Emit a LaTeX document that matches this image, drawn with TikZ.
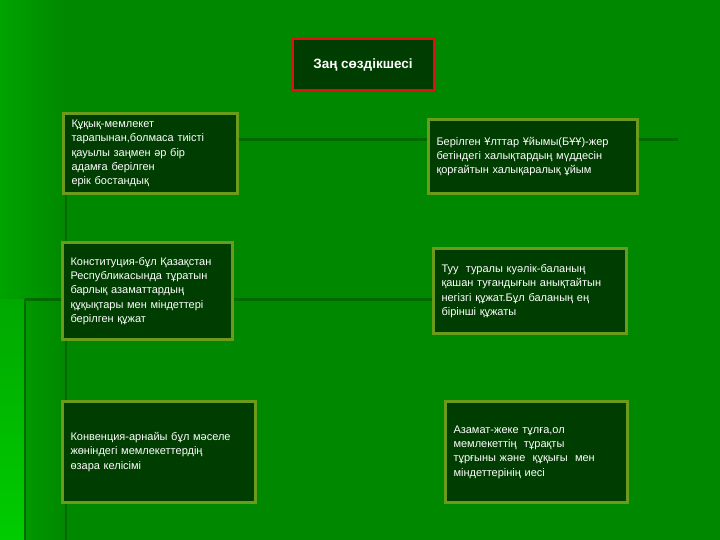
\documentclass[tikz,border=0pt]{standalone}
\usepackage{fontspec}
\setmainfont{Liberation Sans}
\usetikzlibrary{positioning}

\definecolor{slidegreen}{HTML}{008800}
\definecolor{boxgreen}{HTML}{003D00}
\definecolor{boxedge}{HTML}{6B9B1B}
\definecolor{titleedge}{HTML}{E01010}
\definecolor{lineshade}{HTML}{006A00}

\tikzset{
  sozbox/.style={draw=boxedge,line width=3pt,fill=boxgreen,text=white,
    inner xsep=8pt,inner ysep=0pt,align=left,anchor=north west,
    font=\fontsize{11}{14.3}\selectfont},
  titlebox/.style={draw=titleedge,line width=3pt,fill=boxgreen,text=white,
    minimum width=142pt,minimum height=52pt,font=\fontsize{13.5}{15}\selectfont\bfseries},
  bgline/.style={draw=lineshade,line width=3pt}
}

\begin{document}
\begin{tikzpicture}[x=1pt,y=-1pt]
				% background of the slide
				\useasboundingbox (0,0) rectangle (720,540);
				\fill[slidegreen] (0,0) rectangle (720,540);
				\shade[left color=green!64!black,right color=slidegreen] (0,0) rectangle (66,540);
				\shade[top color=green!66!black,bottom color=green!80!black] (0,299) rectangle (25,540);
				\draw[lineshade,line width=1.2pt] (66,193) -- (66,540);
				\draw[lineshade,line width=1.2pt] (25,299) -- (25,540);

				\node[titlebox] (zan) at (363,65) {Заң сөздікшесі};

				\node[sozbox,text width=158pt,minimum height=80pt] (kukyk) at (62,112)
				{
					Құқық-мемлекет\\
					тарапынан,болмаса тиісті\\
					қауылы заңмен әр бір\\
					адамға берілген\\
					ерік бостандық
				};
				\node[sozbox,text width=193pt,minimum height=74pt] (buu) at (427,118)
				{
					Берілген Ұлттар Ұйымы(БҰҰ)-жер\\
					бетіндегі халықтардың мүддесін\\
					қорғайтын халықаралық ұйым
				};
				\node[sozbox,text width=154pt,minimum height=97pt] (konst) at (61,241)
				{
					Конституция-бұл Қазақстан\\
					Республикасында тұратын\\
					барлық азаматтардың\\
					құқықтары мен міндеттері\\
					берілген құжат
				};
				\node[sozbox,text width=177pt,minimum height=85pt] (tuu) at (432,247)
				{
					Туу\ \ туралы куәлік-баланың\\
					қашан туғандығын анықтайтын\\
					негізгі құжат.Бұл баланың ең\\
					бірінші құжаты
				};
				\node[sozbox,text width=177pt,minimum height=101pt] (konv) at (61,400)
				{
					Конвенция-арнайы бұл мәселе\\
					жөніндегі мемлекеттердің\\
					өзара келісімі
				};
				\node[sozbox,text width=166pt,minimum height=101pt] (azamat) at (444,400)
				{
					Азамат-жеке тұлға,ол\\
					мемлекеттің\ \ тұрақты\\
					тұрғыны және\ \ құқығы\ \ мен\\
					міндеттерінің иесі
				};

				% lines behind the boxes
				\coordinate (endA) at (678,140);
				\coordinate (endB) at (25,299);
				\draw[bgline] (endA -| kukyk.east) -- (endA -| buu.west);
				\draw[bgline] (endA -| buu.east) -- (endA);
				\draw[bgline] (endB) -- (endB -| konst.west);
				\draw[bgline] (endB -| konst.east) -- (endB -| tuu.west);
		\end{tikzpicture}
\end{document}
